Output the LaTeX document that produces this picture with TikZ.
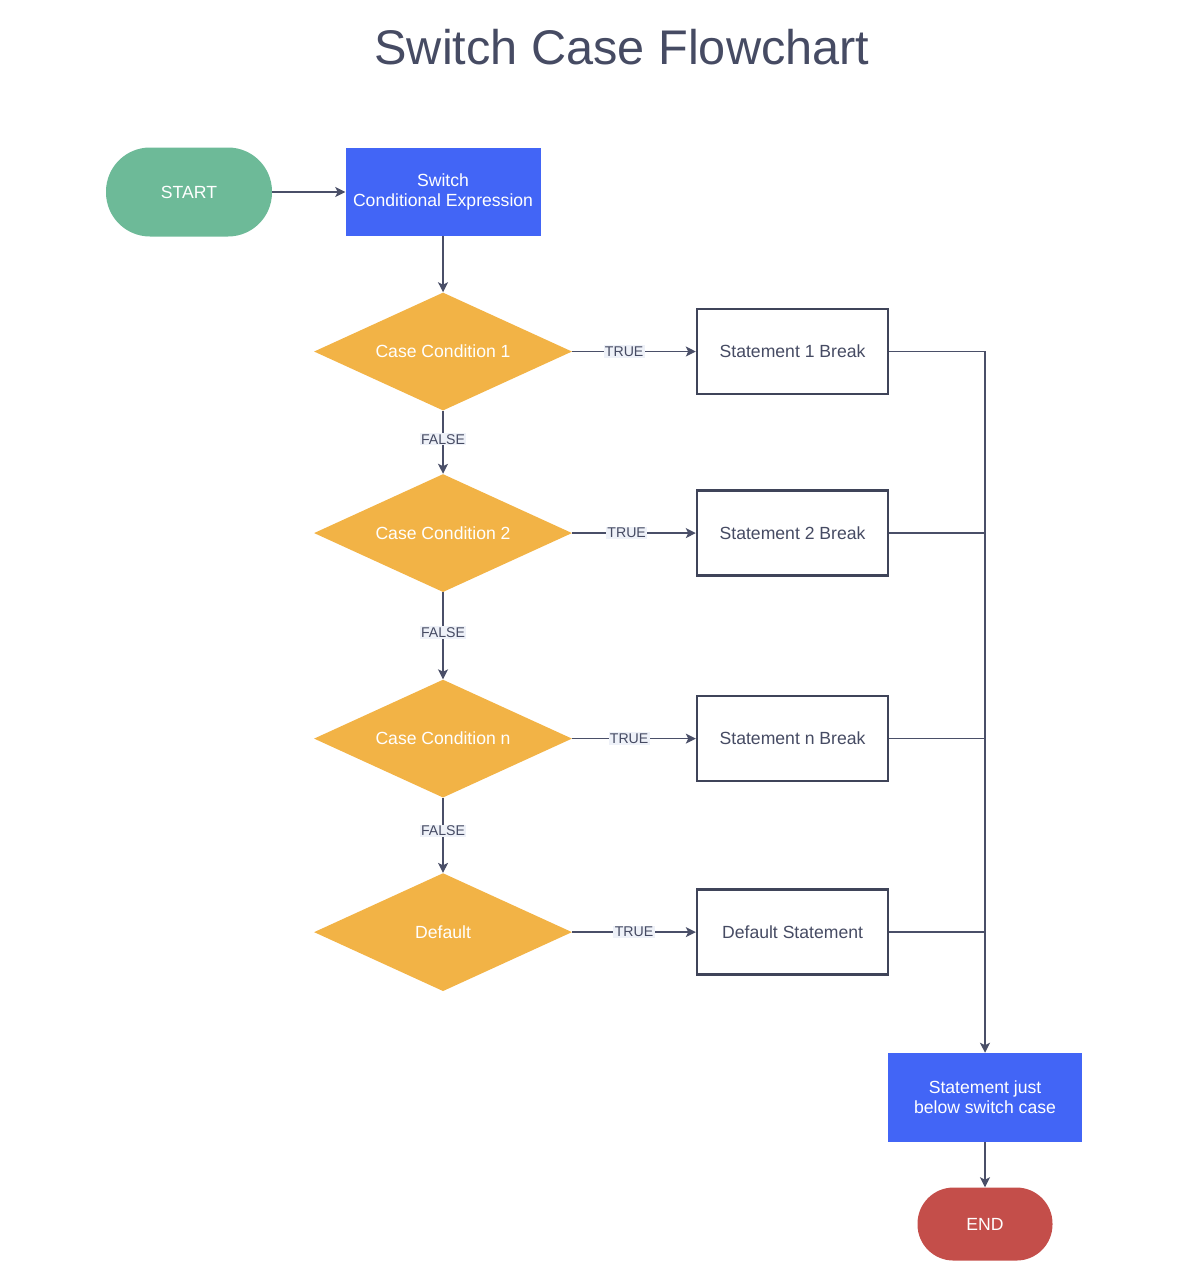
\documentclass[tikz,border=0pt]{standalone}
\usepackage{fontspec}
\setmainfont{Liberation Sans}
\usepackage{tikz}
\usetikzlibrary{arrows.meta,calc,positioning,shapes.geometric}
\newdimen\px
\px=0.75pt
\definecolor{startgreen}{HTML}{6DBA98}
\definecolor{switchblue}{HTML}{4265F6}
\definecolor{caseorange}{HTML}{F2B346}
\definecolor{endred}{HTML}{C44E4A}
\definecolor{linedark}{HTML}{4A4F68}
\definecolor{boxborder}{HTML}{3F4459}
\definecolor{textdark}{HTML}{464B63}
\definecolor{labelbg}{HTML}{EEF1F8}
\newcommand{\flowfont}{\fontsize{13.2}{15}\selectfont}
\newcommand{\labelfont}{\fontsize{10.6}{12}\selectfont}
\tikzstyle{titletext}=[
  color=textdark,
  font={\fontsize{36.5}{40}\selectfont},
]
\tikzstyle{terminal}=[
  fill=startgreen,
  font=\flowfont,
  inner sep=0pt,
  minimum height=89\px,
  minimum width=166\px,
  rectangle,
  rounded corners=44\px,
  text=white,
]
\tikzstyle{process}=[
  align=center,
  fill=switchblue,
  font=\flowfont,
  inner sep=0pt,
  minimum height=88\px,
  minimum width=195\px,
  rectangle,
  text=white,
]
\tikzstyle{decision}=[
  aspect=2.19,
  diamond,
  fill=caseorange,
  font=\flowfont,
  inner sep=0pt,
  minimum height=118\px,
  minimum width=258\px,
  text=white,
]
\tikzstyle{statement}=[
  draw=boxborder,
  fill=white,
  font=\flowfont,
  inner sep=0pt,
  line width=2.5\px,
  minimum height=85\px,
  minimum width=191\px,
  rectangle,
  text=textdark,
]
\tikzstyle{arrow}=[
  draw=linedark,
  line width=1.3\px,
]
\tikzstyle{arrowlabel}=[
  fill=labelbg,
  font=\labelfont,
  inner sep=1pt,
  text=textdark,
]
\tikzset{
  >={Stealth[length=7.5pt,width=7.5pt,inset=1.8pt]},
}

\begin{document}
\begin{tikzpicture}[x=\px,y=-\px]
  \useasboundingbox (0,0) rectangle (1194,1288);
  \node (title) [titletext] at (622,47) {Switch Case Flowchart};
  %%
  \node (start) [terminal] at (189,192) {START};
  \node (switch) [process, right=73\px of start] {Switch\\Conditional Expression};
  %%
  \node (case1) [decision, below=56\px of switch] {Case Condition 1};
  \node (case2) [decision, below=63\px of case1] {Case Condition 2};
  \node (casen) [decision, below=87\px of case2] {Case Condition n};
  \node (default) [decision, below=75\px of casen] {Default};
  %%
  \node (stmt1) [statement, right=123.5\px of case1] {Statement 1 Break};
  \node (stmt2) [statement, right=123.5\px of case2] {Statement 2 Break};
  \node (stmtn) [statement, right=123.5\px of casen] {Statement n Break};
  \node (stmtd) [statement, right=123.5\px of default] {Default Statement};
  %%
  \node (after) [process, minimum width=194\px, minimum height=89\px] at (985,1097.5)
    {Statement just\\below switch case};
  \node (end) [terminal, fill=endred, minimum width=135\px, minimum height=73\px,
    rounded corners=36\px, below=45\px of after] {END};
  %%
  \draw [->, arrow] (start) -- (switch);
  \draw [->, arrow] (switch) -- (case1);
  \draw [->, arrow] (case1) -- node [arrowlabel, pos=.42] {TRUE} (stmt1);
  \draw [->, arrow] (case2) -- node [arrowlabel, pos=.44] {TRUE} (stmt2);
  \draw [->, arrow] (casen) -- node [arrowlabel, pos=.46] {TRUE} (stmtn);
  \draw [->, arrow] (default) -- node [arrowlabel, pos=.5] {TRUE} (stmtd);
  \draw [->, arrow] (case1) -- node [arrowlabel, pos=.45] {FALSE} (case2);
  \draw [->, arrow] (case2) -- node [arrowlabel, pos=.46] {FALSE} (casen);
  \draw [->, arrow] (casen) -- node [arrowlabel, pos=.44] {FALSE} (default);
  %%
  \draw [->, arrow] (stmt1.east) -| (after.north);
  \draw [arrow] (stmt2.east) -- (stmt2.east -| after.north);
  \draw [arrow] (stmtn.east) -- (stmtn.east -| after.north);
  \draw [arrow] (stmtd.east) -- (stmtd.east -| after.north);
  \draw [->, arrow] (after) -- (end);
\end{tikzpicture}
\end{document}
